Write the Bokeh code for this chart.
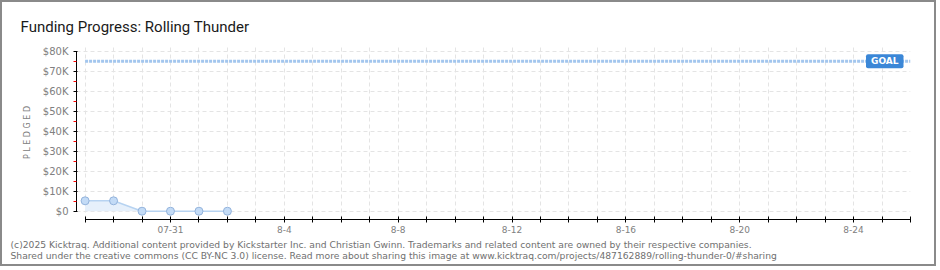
import pandas as pd
from bokeh.plotting import figure
from bokeh.models import FixedTicker, Label, Title
from bokeh.embed import file_html
from bokeh.resources import INLINE

# ---- data ----
dates = ["2025-07-28", "2025-07-29", "2025-07-30", "2025-07-31", "2025-08-01", "2025-08-02"]
pledged = [5200, 5200, 0, 0, 0, 0]
goal = 75000
axis_start = "2025-07-28"
axis_end = "2025-08-26"
x_tick_labels = {"2025-07-31": "07-31", "2025-08-04": "8-4", "2025-08-08": "8-8",
                 "2025-08-12": "8-12", "2025-08-16": "8-16", "2025-08-20": "8-20",
                 "2025-08-24": "8-24"}
y_ticks = [0, 10000, 20000, 30000, 40000, 50000, 60000, 70000, 80000]
y_tick_labels = ["$0", "$10K", "$20K", "$30K", "$40K", "$50K", "$60K", "$70K", "$80K"]
y_minor = [5000, 15000, 25000, 35000, 45000, 55000, 65000, 75000]
title_text = "Funding Progress: Rolling Thunder"
footer1 = ("(c)2025 Kicktraq. Additional content provided by Kickstarter Inc. and Christian Gwinn. "
           "Trademarks and related content are owned by their respective companies.")
footer2 = ("Shared under the creative commons (CC BY-NC 3.0) license. Read more about sharing this "
           "image at www.kicktraq.com/projects/487162889/rolling-thunder-0/#sharing")

DAY = 86400000.0
xs = [pd.Timestamp(d).value / 1e6 for d in dates]
x0 = pd.Timestamp(axis_start).value / 1e6
x1 = pd.Timestamp(axis_end).value / 1e6
day_ticks = [x0 + i * DAY for i in range(int(round((x1 - x0) / DAY)) + 1)]

FRAME_LEFT = 74
p = figure(width=936, height=266, output_backend="svg", toolbar_location=None,
           x_axis_type="datetime",
           x_range=(x0 - 0.302 * DAY, x1),
           y_range=(-4150, 82850),
           min_border_left=FRAME_LEFT, min_border_right=28, min_border_top=43,
           min_border_bottom=49,
           styles={"border": "2px solid #8a8a8a"})
p.outline_line_color = None
p.background_fill_color = "white"
p.border_fill_color = "white"

# title
p.title.text = title_text
p.title.align = "left"
p.title.offset = 18 - FRAME_LEFT
p.title.text_font = "Roboto"
p.title.text_font_size = "15px"
p.title.text_font_style = "normal"
p.title.text_color = "#1a1a1a"
p.title.standoff = 19

# grids
p.xgrid.ticker = FixedTicker(ticks=day_ticks)
p.ygrid.ticker = FixedTicker(ticks=y_ticks)
for g in (p.xgrid, p.ygrid):
    g.grid_line_color = "#e4e4e4"
    g.grid_line_dash = "4 3"
    g.grid_line_width = 1

# x axis
xa = p.xaxis[0]
xa.ticker = FixedTicker(ticks=day_ticks)
overrides = {}
for t in day_ticks:
    key = pd.Timestamp(t, unit="ms").strftime("%Y-%m-%d")
    overrides[t] = x_tick_labels.get(key, "")
xa.major_label_overrides = overrides
xa.bounds = (x0, x1)
xa.axis_line_color = "black"
xa.major_tick_line_color = "black"
xa.major_tick_in = 3
xa.major_tick_out = 3
xa.minor_tick_line_color = None
xa.major_label_text_font = "DejaVu Sans"
xa.major_label_text_font_size = "9px"
xa.major_label_text_color = "#808080"
xa.major_label_standoff = 3

# y axis
ya = p.yaxis[0]
ya.ticker = FixedTicker(ticks=y_ticks, minor_ticks=y_minor)
ya.major_label_overrides = {v: l for v, l in zip(y_ticks, y_tick_labels)}
ya.bounds = (0, 80000)
ya.axis_line_color = "black"
ya.major_tick_line_color = "black"
ya.major_tick_in = 1
ya.major_tick_out = 3
ya.minor_tick_line_color = "red"
ya.minor_tick_in = 0
ya.minor_tick_out = 3
ya.major_label_text_font = "DejaVu Sans"
ya.major_label_text_font_size = "10px"
ya.major_label_text_color = "#808080"
ya.major_label_standoff = 5
ya.axis_label = "P L E D G E D"
ya.axis_label_text_font = "DejaVu Sans"
ya.axis_label_text_font_size = "8px"
ya.axis_label_text_font_style = "normal"
ya.axis_label_text_color = "#808080"
ya.axis_label_standoff = 8

# data
p.varea(x=xs, y1=[0] * len(xs), y2=pledged, fill_color="#e6f0fb", fill_alpha=1)
p.line(xs, pledged, line_color="#b7d3f1", line_width=1.5)
p.scatter(xs, pledged, size=8, fill_color="#c3dbf6", line_color="#93b3dc", line_width=1)

# goal
p.line([x0, x1], [goal, goal], line_color="#a3c6ee", line_width=3, line_dash="3 1")
p.add_layout(Label(x=x1, y=goal, text="GOAL", text_align="right", text_baseline="middle",
                   x_offset=-7, text_color="white", text_font="DejaVu Sans",
                   text_font_size="9px", text_font_style="bold",
                   background_fill_color="#3b87d7", padding=(5, 2), border_radius=2))

# footer
p.add_layout(Title(text=footer1 + "\n" + footer2, align="left", offset=8 - FRAME_LEFT,
                   text_font="DejaVu Sans", text_font_size="9.2px",
                   text_font_style="normal", text_color="#707070",
                   text_line_height=1.03, standoff=4), "below")

open("out.html", "w").write(file_html(p, INLINE))
